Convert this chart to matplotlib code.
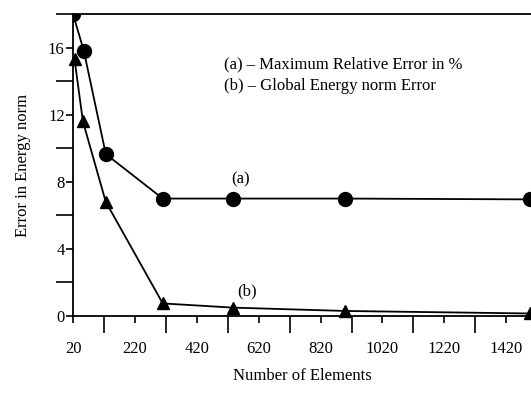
import numpy as np
import matplotlib
matplotlib.use("Agg")
import matplotlib.pyplot as plt
from matplotlib.ticker import MultipleLocator

# series (a): maximum relative error in %
x_a = [20, 55, 126, 310, 536, 900, 1496]
y_a = [18.0, 15.8, 9.65, 7.0, 7.0, 7.0, 6.95]

# series (b): global energy norm error
x_b = [25, 52, 126, 310, 536, 900, 1496]
y_b = [15.3, 11.6, 6.8, 0.75, 0.5, 0.3, 0.15]

xticks = [20, 220, 420, 620, 820, 1020, 1220, 1420]
yticks = [0, 4, 8, 12, 16]

plt.rcParams['font.family'] = ['Liberation Serif', 'DejaVu Serif']

fig = plt.figure(figsize=(5.31, 3.98), dpi=100)
ax = fig.add_axes([73/531, 1 - 316/398, (531 - 73)/531, (316 - 14)/398])

ax.plot(x_a, y_a, color='black', lw=1.3, marker='o', ms=10, zorder=3)
ax.plot(x_b, y_b, color='black', lw=1.3, marker='^', ms=9, zorder=3, clip_on=False)

ax.set_xlim(20, 1500)
ax.set_ylim(0, 18)

ax.set_xticks(xticks)
ax.set_yticks(yticks)
ax.xaxis.set_minor_locator(MultipleLocator(200, offset=120))
ax.yaxis.set_minor_locator(MultipleLocator(4, offset=2))
ax.tick_params(axis='x', which='major', length=5, width=1.2, pad=13, labelsize=12)
ax.tick_params(axis='x', which='minor', length=12, width=1.2)
ax.tick_params(axis='y', which='major', length=5, width=1.2, pad=1, labelsize=12)
ax.tick_params(axis='y', which='minor', length=12, width=1.2)

ax.spines['right'].set_visible(False)
for s in ['left', 'top', 'bottom']:
    ax.spines[s].set_linewidth(1.3)

ax.set_xlabel('Number of Elements', fontsize=12, labelpad=8)
ax.set_ylabel('Error in Energy norm', fontsize=12, labelpad=12)

ax.text(0.33, 0.82, '(a) \u2013 Maximum Relative Error in %', transform=ax.transAxes, fontsize=12)
ax.text(0.33, 0.75, '(b) \u2013 Global Energy norm Error', transform=ax.transAxes, fontsize=12)
ax.text(530, 7.9, '(a)', fontsize=12)
ax.text(552, 1.2, '(b)', fontsize=12)

fig.savefig('out.png', dpi=100)
